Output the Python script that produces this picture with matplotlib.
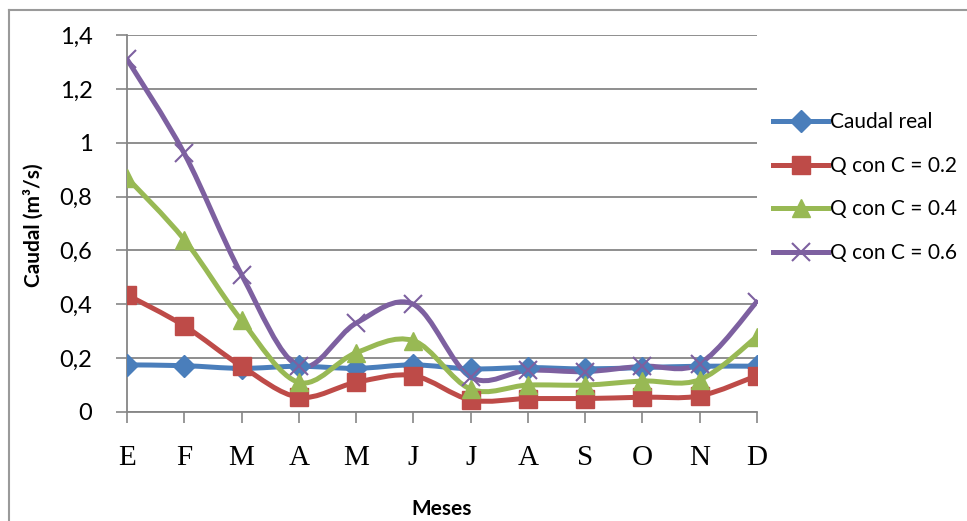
import numpy as np
import matplotlib
matplotlib.use('Agg')
import matplotlib.pyplot as plt
from matplotlib.path import Path
from matplotlib.patches import PathPatch
from matplotlib.lines import Line2D
from matplotlib.ticker import FuncFormatter

meses = ['E', 'F', 'M', 'A', 'M', 'J', 'J', 'A', 'S', 'O', 'N', 'D']
caudal_real = [0.175, 0.172, 0.162, 0.170, 0.162, 0.175, 0.160, 0.165, 0.160, 0.165, 0.170, 0.170]
q_c02 = [0.435, 0.320, 0.170, 0.055, 0.110, 0.135, 0.045, 0.050, 0.050, 0.055, 0.060, 0.135]
q_c04 = [0.870, 0.640, 0.340, 0.110, 0.220, 0.265, 0.085, 0.100, 0.100, 0.115, 0.120, 0.280]
q_c06 = [1.310, 0.960, 0.510, 0.170, 0.330, 0.400, 0.130, 0.155, 0.150, 0.170, 0.180, 0.410]

series = [
    ('Caudal real', caudal_real, '#4A7EBB', 'D', 11),
    ('Q con C = 0.2', q_c02, '#BE4B48', 's', 13),
    ('Q con C = 0.4', q_c04, '#98B954', '^', 13),
    ('Q con C = 0.6', q_c06, '#7D60A0', 'x', 13),
]


def smooth_path(x, y):
    # Excel-like smoothed line: cubic bezier segments (Catmull-Rom)
    x = np.asarray(x, float)
    y = np.asarray(y, float)
    n = len(x)
    verts = [(x[0], y[0])]
    codes = [Path.MOVETO]
    for i in range(n - 1):
        i0 = max(i - 1, 0)
        i3 = min(i + 2, n - 1)
        c1 = (x[i] + (x[i + 1] - x[i0]) / 6, y[i] + (y[i + 1] - y[i0]) / 6)
        c2 = (x[i + 1] - (x[i3] - x[i]) / 6, y[i + 1] - (y[i3] - y[i]) / 6)
        verts += [c1, c2, (x[i + 1], y[i + 1])]
        codes += [Path.CURVE4] * 3
    return Path(verts, codes)


plt.rcParams['font.family'] = ['Lato', 'DejaVu Sans']

fig = plt.figure(figsize=(9.67, 5.21), dpi=100)
ax = fig.add_axes([127 / 967, 1 - 412 / 521, (757 - 127) / 967, (412 - 35) / 521])

xs = np.arange(len(meses))
handles = []
for name, vals, col, mk, ms in series:
    ax.add_patch(PathPatch(smooth_path(xs, vals), facecolor='none', edgecolor=col,
                           lw=3.6, capstyle='round', joinstyle='round', zorder=3))
    mew = 1.5 if mk == 'x' else 1
    ax.plot(xs, vals, ls='none', marker=mk, ms=ms, color=col, mec=col, mew=mew, zorder=4)
    handles.append(Line2D([], [], color=col, lw=3.6, marker=mk, ms=ms, mec=col, mew=mew, label=name))

ax.set_xlim(0, len(meses) - 1)
ax.set_ylim(0, 1.4)
ax.set_yticks(np.arange(0, 1.41, 0.2))
ax.yaxis.set_major_formatter(FuncFormatter(lambda v, p: ('%g' % round(v, 1)).replace('.', ',')))
ax.set_xticks(xs)
ax.set_xticklabels(meses, family='Liberation Serif', fontsize=21)
ax.tick_params(axis='y', labelsize=17, length=8, width=1.2, color='#868686', pad=17)
ax.tick_params(axis='x', length=8, width=1.2, color='#868686', pad=16)

ax.grid(axis='y', color='#868686', lw=1.3)
ax.set_axisbelow(True)
for s in ['top', 'right']:
    ax.spines[s].set_visible(False)
for s in ['left', 'bottom']:
    ax.spines[s].set_color('#868686')
    ax.spines[s].set_linewidth(1.3)

ax.set_xlabel('Meses', fontsize=15, fontweight='bold', labelpad=20)
fig.text(33 / 967, 1 - 225 / 521, 'Caudal (m³/s)', rotation=90, fontsize=15,
         fontweight='bold', ha='center', va='center')

fig.legend(handles=handles, loc='upper left', bbox_to_anchor=(763 / 967, 1 - 102 / 521),
           frameon=False, fontsize=15, handlelength=2.6, handletextpad=0.12,
           labelspacing=1.13, borderpad=0)

# outer chart border
fig.add_artist(Line2D([9 / 967, 1], [1 - 10 / 521, 1 - 10 / 521], color='#9a9a9a', lw=1.5))
fig.add_artist(Line2D([9 / 967, 9 / 967], [0, 1 - 10 / 521], color='#9a9a9a', lw=1.5))

fig.savefig('out.png', dpi=100)
